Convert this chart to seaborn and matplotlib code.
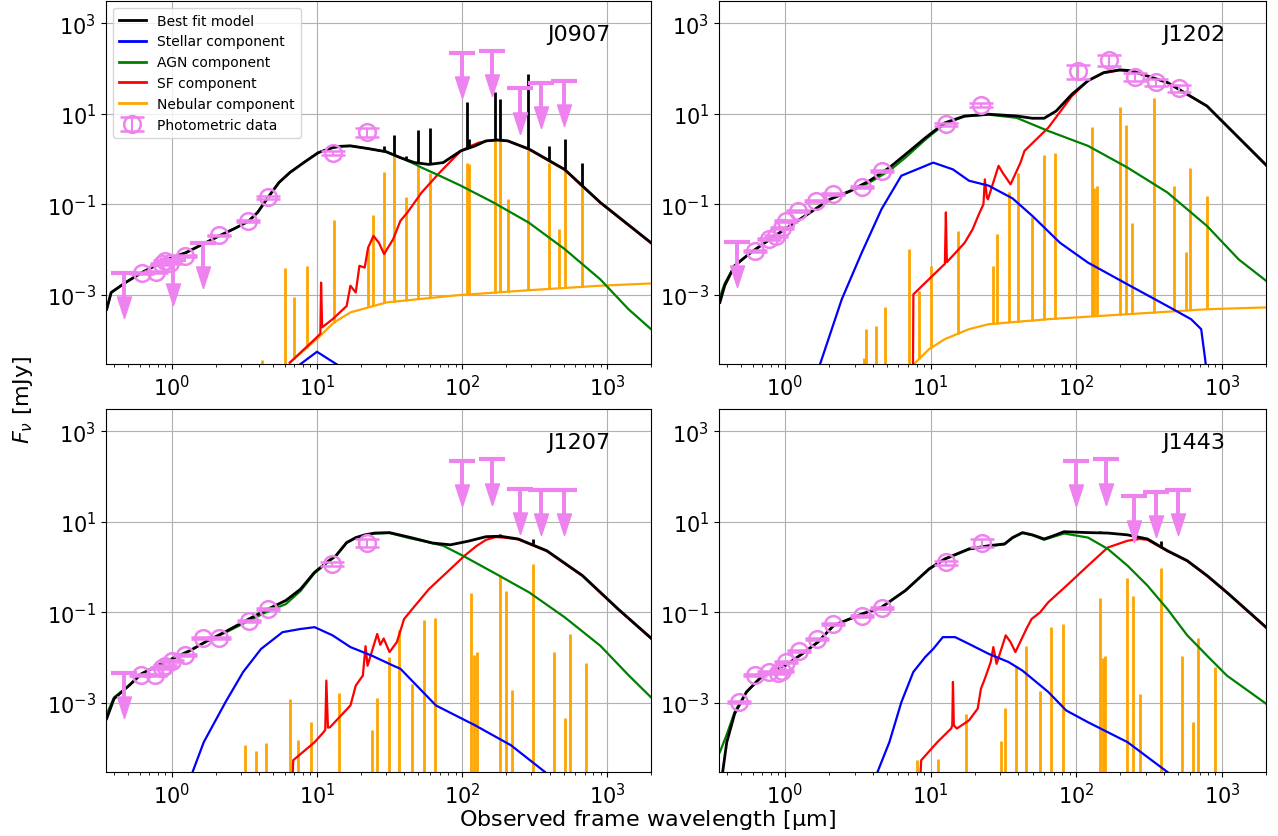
import numpy as np
import pandas as pd
import matplotlib
matplotlib.use("Agg")
import matplotlib.pyplot as plt
import seaborn as sns
from matplotlib.lines import Line2D
from matplotlib.ticker import NullLocator

# values: wavelength in micron, flux as log10(mJy)

# ---------------- J0907 ----------------
j0907_best_wl = [0.356, 0.382, 0.48, 0.62, 0.80, 1.0, 1.25, 1.76, 2.15, 2.77, 3.39, 3.9, 4.6, 5.47, 6.5, 8.1, 10.2,
                 12.8, 14.5, 17, 22.5, 30, 37.5, 47, 59, 74, 98, 123, 146, 174, 206, 289, 508, 895, 2000]
j0907_best_logf = [-3.32, -2.95, -2.73, -2.51, -2.33, -2.18, -2.07, -1.83, -1.69, -1.52, -1.37, -1.18, -0.85, -0.52,
                   -0.30, -0.08, 0.14, 0.25, 0.28, 0.29, 0.23, 0.16, 0.03, -0.08, -0.12, -0.08, 0.18, 0.29, 0.40,
                   0.42, 0.40, 0.22, -0.23, -0.96, -1.85]
j0907_agn_wl = [0.356, 0.382, 0.48, 0.62, 0.80, 1.0, 1.25, 1.76, 2.15, 2.77, 3.39, 3.9, 4.6, 5.47, 6.5, 8.1, 10.2,
                12.8, 14.5, 17, 22.5, 30, 37.5, 47, 52.6, 70, 98, 164, 289, 508, 895, 1400, 2000]
j0907_agn_logf = [-3.32, -2.95, -2.73, -2.51, -2.33, -2.18, -2.07, -1.83, -1.69, -1.52, -1.37, -1.18, -0.85, -0.52,
                  -0.30, -0.08, 0.14, 0.25, 0.28, 0.29, 0.23, 0.16, 0.03, -0.11, -0.19, -0.37, -0.59, -0.96, -1.41,
                  -1.99, -2.66, -3.32, -3.76]
j0907_sf_wl = [6.5, 10.2, 10.55, 10.67, 10.85, 12.8, 16, 17, 18.5, 19.6, 21.3, 22.5, 24.5, 26.7, 29, 33.5, 37.5, 42,
               52.6, 70, 98, 115, 130, 150, 174, 206, 289, 508, 895, 2000]
j0907_sf_logf = [-4.5, -3.91, -3.86, -2.73, -3.72, -3.54, -3.25, -2.80, -2.95, -2.36, -2.40, -1.96, -1.70, -1.85,
                 -2.10, -1.77, -1.37, -1.18, -0.74, -0.30, 0.18, 0.29, 0.36, 0.40, 0.42, 0.40, 0.21, -0.24, -0.97,
                 -1.86]
j0907_stellar_wl = [7.0, 10.0, 15.0]
j0907_stellar_logf = [-4.63, -4.26, -4.62]
j0907_neb_wl = [6.5, 10.2, 13.0, 17, 30, 93, 289, 895, 2000]
j0907_neb_logf = [-4.5, -3.95, -3.62, -3.39, -3.17, -3.01, -2.90, -2.80, -2.75]
j0907_line_wl = [4.17, 6.03, 6.98, 8.5, 13.1, 22.5, 24.3, 29.1, 33.8, 41.3, 49.8, 60.4, 108, 112, 168, 183, 207,
                 285, 394, 468, 508, 667]
j0907_line_logf = [-4.44, -2.40, -3.05, -2.36, -1.35, -1.96, -1.24, -0.29, 0.08, -0.83, -0.15, -0.30, -0.08, -0.10,
                   0.42, 0.42, -0.89, 0.20, -0.08, -1.54, -0.23, -0.48]
j0907_spike_wl = [29.1, 33.8, 41.3, 49.8, 60.4, 108, 112, 168, 183, 285, 394, 508, 667]
j0907_spike_logf = [0.29, 0.52, 0.07, 0.64, 0.69, 1.25, 0.44, 1.48, 1.32, 1.87, 0.29, 0.44, -0.08]
j0907_phot_wl = [0.62, 0.775, 0.853, 0.90, 0.97, 1.24, 2.11, 3.34, 4.6, 12.8, 22]
j0907_phot_logf = [-2.51, -2.50, -2.33, -2.25, -2.29, -2.14, -1.69, -1.37, -0.85, 0.13, 0.60]
j0907_phot_err = [0.05, 0.05, 0.05, 0.05, 0.05, 0.05, 0.05, 0.06, 0.06, 0.1, 0.22]
j0907_ulim_wl = [0.47, 1.02, 1.64, 100, 160, 250, 350, 500]
j0907_ulim_logf = [-2.52, -2.23, -1.85, 2.35, 2.39, 1.56, 1.69, 1.72]

# ---------------- J1202 ----------------
j1202_best_wl = [0.357, 0.385, 0.45, 0.58, 0.79, 1.0, 1.49, 2.03, 2.78, 3.8, 5.2, 6.7, 9.2, 12.5, 17.1, 25, 38.8,
                 49.9, 60, 72.6, 93, 120, 154, 198, 239, 421, 787, 2000]
j1202_best_logf = [-3.17, -2.80, -2.36, -2.07, -1.77, -1.55, -1.18, -0.89, -0.71, -0.48, -0.19, 0.10, 0.47, 0.80,
                   0.95, 0.99, 0.95, 0.90, 0.90, 1.06, 1.43, 1.73, 1.91, 1.97, 1.95, 1.69, 1.17, -0.13]
j1202_agn_wl = [0.357, 0.385, 0.45, 0.58, 0.79, 1.0, 1.49, 2.03, 2.78, 3.8, 5.2, 6.7, 9.2, 12.5, 17.1, 25, 38.8, 64,
                120, 224, 421, 787, 1300, 2000]
j1202_agn_logf = [-3.05, -2.75, -2.36, -2.07, -1.77, -1.55, -1.18, -0.89, -0.72, -0.52, -0.26, 0.03, 0.43, 0.78,
                  0.94, 0.98, 0.91, 0.62, 0.29, -0.19, -0.74, -1.48, -2.22, -2.69]
j1202_sf_wl = [7.55, 7.6, 12.1, 12.5, 12.7, 12.9, 17.1, 19.4, 21.4, 23.0, 23.5, 24.3, 24.7, 29.2, 31.1, 35.3, 41.3,
               44, 64, 93, 120, 154, 198, 239, 421, 787, 2000]
j1202_sf_logf = [-4.6, -2.99, -2.36, -2.32, -1.18, -2.28, -1.85, -1.55, -1.22, -1.0, -0.45, -0.85, -0.89, -0.15,
                 -0.30, -0.56, -0.08, 0.18, 0.69, 1.39, 1.73, 1.90, 1.96, 1.94, 1.69, 1.17, -0.14]
j1202_stellar_wl = [1.74, 2.45, 3.36, 4.59, 6.28, 8.6, 10.4, 14.2, 18.3, 25, 36.4, 49.9, 77, 120, 224, 421, 612,
                    718, 777]
j1202_stellar_logf = [-4.53, -3.10, -2.07, -1.11, -0.37, -0.19, -0.08, -0.23, -0.48, -0.59, -0.87, -1.26, -1.85,
                      -2.29, -2.77, -3.25, -3.54, -3.76, -4.6]
j1202_neb_wl = [7.3, 9.75, 12.5, 18.3, 25, 64, 224, 787, 2000]
j1202_neb_logf = [-4.6, -4.20, -3.98, -3.76, -3.65, -3.54, -3.43, -3.32, -3.28]
j1202_line_wl = [3.46, 3.6, 4.18, 4.89, 7.1, 8.3, 10.05, 15.4, 26.6, 28.3, 34.7, 40, 49.2, 60, 71.7, 128, 132, 138,
                 200, 220, 241, 338, 468, 565, 605, 787]
j1202_line_logf = [-4.39, -3.75, -3.69, -3.28, -1.99, -2.92, -2.36, -1.60, -2.36, -1.65, -0.73, -0.30, -1.29, 0.09,
                   0.14, 0.71, -0.64, -0.59, 1.14, 0.75, -1.41, 1.34, -0.59, -2.06, -0.19, -0.82]
j1202_spike_wl = []
j1202_spike_logf = []
j1202_phot_wl = [0.625, 0.77, 0.87, 0.957, 1.02, 1.23, 1.63, 2.14, 3.4, 4.65, 12.7, 22, 102, 166, 251, 352, 508]
j1202_phot_logf = [-2.03, -1.77, -1.71, -1.52, -1.37, -1.15, -0.93, -0.78, -0.61, -0.26, 0.77, 1.19, 1.95, 2.19,
                   1.82, 1.70, 1.56]
j1202_phot_err = [0.05, 0.05, 0.05, 0.05, 0.05, 0.05, 0.05, 0.05, 0.05, 0.05, 0.08, 0.1, 0.33, 0.28, 0.18, 0.17,
                  0.18]
j1202_ulim_wl = [0.466]
j1202_ulim_logf = [-1.83]

# ---------------- J1207 ----------------
j1207_best_wl = [0.356, 0.40, 0.507, 0.618, 0.797, 1.0, 1.33, 1.76, 2.34, 3.39, 4.6, 6.1, 7.7, 9.6, 12.1, 13.5, 16,
                 18.5, 21.3, 25, 31.6, 44.4, 62.5, 83, 110, 146, 183, 243, 383, 675, 1189, 2000]
j1207_best_logf = [-3.35, -2.91, -2.62, -2.36, -2.18, -2.03, -1.85, -1.63, -1.43, -1.15, -0.93, -0.74, -0.49, -0.12,
                   0.14, 0.25, 0.54, 0.65, 0.71, 0.75, 0.76, 0.65, 0.53, 0.49, 0.57, 0.67, 0.68, 0.62, 0.36, -0.19,
                   -0.93, -1.57]
j1207_agn_wl = [0.356, 0.40, 0.507, 0.618, 0.797, 1.0, 1.33, 1.76, 2.34, 3.39, 4.6, 6.1, 7.7, 9.6, 12.1, 13.5, 16,
                18.5, 21.3, 25, 31.6, 44.4, 52.7, 74, 101, 164, 289, 508, 895, 1409, 2000]
j1207_agn_logf = [-3.25, -2.88, -2.62, -2.36, -2.18, -2.03, -1.85, -1.63, -1.45, -1.19, -0.98, -0.82, -0.53, -0.14,
                  0.13, 0.24, 0.53, 0.64, 0.70, 0.74, 0.75, 0.63, 0.58, 0.47, 0.25, -0.12, -0.56, -1.11, -1.74,
                  -2.40, -2.88]
j1207_sf_wl = [6.8, 6.86, 9.64, 11.1, 11.4, 11.6, 11.9, 12.3, 17, 18.5, 20.7, 21.6, 22.3, 26, 27.3, 28.8, 31.6, 35.5,
               39.8, 44.5, 59, 78.4, 104, 125, 146, 170, 194, 243, 383, 675, 1189, 2000]
j1207_sf_logf = [-4.6, -4.27, -3.87, -3.65, -3.6, -2.51, -3.55, -3.54, -3.06, -2.62, -2.40, -1.75, -2.18, -1.48,
                 -1.72, -1.58, -1.88, -1.66, -1.15, -0.96, -0.49, -0.12, 0.25, 0.46, 0.60, 0.66, 0.65, 0.61, 0.35,
                 -0.20, -0.94, -1.58]
j1207_stellar_wl = [1.39, 1.66, 2.34, 3.1, 4.12, 5.79, 7.69, 9.64, 12.8, 17, 23.9, 33.5, 37.6, 66, 123, 217, 372]
j1207_stellar_logf = [-4.53, -3.87, -2.99, -2.32, -1.81, -1.44, -1.37, -1.33, -1.51, -1.77, -1.96, -2.18, -2.25,
                      -3.06, -3.50, -3.94, -4.53]
j1207_neb_wl = []
j1207_neb_logf = []
j1207_line_wl = [3.19, 3.79, 4.44, 6.5, 7.45, 9.1, 14.1, 24.1, 26, 31.3, 36.5, 45, 54.3, 65.1, 116, 121, 127, 181,
                 200, 220, 309, 426, 508, 553, 718]
j1207_line_logf = [-3.94, -4.07, -3.88, -2.91, -3.83, -3.43, -2.79, -3.61, -2.90, -1.99, -1.40, -2.58, -1.18, -1.13,
                   -0.58, -1.94, -1.87, -0.17, -0.54, -2.71, 0.07, -1.88, -3.34, -1.48, -2.12]
j1207_spike_wl = [181, 309]
j1207_spike_logf = [0.74, 0.62]
j1207_phot_wl = [0.618, 0.762, 0.853, 0.9, 1.0, 1.23, 1.64, 2.12, 3.38, 4.6, 12.6, 22]
j1207_phot_logf = [-2.38, -2.38, -2.24, -2.18, -2.07, -1.94, -1.57, -1.57, -1.19, -0.93, 0.06, 0.54]
j1207_phot_err = [0.05, 0.05, 0.05, 0.05, 0.05, 0.05, 0.05, 0.05, 0.05, 0.05, 0.1, 0.22]
j1207_ulim_wl = [0.47, 100, 160, 250, 350, 500]
j1207_ulim_logf = [-2.34, 2.35, 2.38, 1.72, 1.70, 1.71]

# ---------------- J1443 ----------------
j1443_best_wl = [0.373, 0.398, 0.451, 0.544, 0.70, 1.0, 1.31, 1.68, 2.16, 3.36, 4.59, 6.7, 9.75, 12.5, 18.3, 25,
                 32.1, 36.4, 42.6, 49.9, 60, 68.2, 82.3, 120, 164, 224, 307, 421, 576, 788, 1078, 2000]
j1443_best_logf = [-4.53, -3.87, -3.24, -2.76, -2.40, -2.18, -1.92, -1.66, -1.29, -1.04, -0.89, -0.52, -0.04, 0.18,
                   0.40, 0.47, 0.51, 0.65, 0.76, 0.71, 0.62, 0.68, 0.78, 0.76, 0.75, 0.71, 0.62, 0.36, 0.14, -0.19,
                   -0.56, -1.33]
j1443_agn_wl = [0.357, 0.398, 0.451, 0.544, 0.70, 1.0, 1.31, 1.68, 2.16, 3.36, 4.59, 6.7, 9.75, 12.5, 18.3, 25,
                32.1, 36.4, 42.6, 49.9, 60, 68.2, 82.3, 120, 164, 224, 307, 421, 576, 788, 1078, 2000]
j1443_agn_logf = [-4.09, -3.70, -3.20, -2.76, -2.40, -2.18, -1.92, -1.66, -1.29, -1.04, -0.89, -0.52, -0.05, 0.17,
                  0.39, 0.46, 0.50, 0.64, 0.75, 0.70, 0.60, 0.66, 0.74, 0.65, 0.40, 0.03, -0.41, -0.93, -1.51, -1.96,
                  -2.40, -3.02]
j1443_sf_wl = [8.5, 8.6, 11.1, 13.8, 14.05, 14.2, 14.4, 15.1, 18.3, 21, 22.1, 23.5, 25.8, 26.9, 28.3, 32.7, 35.3,
               38.1, 45.3, 49.2, 56.4, 64, 87.7, 120, 164, 224, 271, 307, 421, 576, 788, 1078, 2000]
j1443_sf_logf = [-4.6, -4.27, -3.87, -3.57, -3.5, -2.54, -3.5, -3.57, -3.39, -3.13, -2.69, -2.47, -2.10, -1.77,
                 -2.14, -1.51, -1.66, -1.88, -1.37, -1.15, -1.0, -0.78, -0.38, 0.03, 0.43, 0.58, 0.62, 0.60, 0.35,
                 0.13, -0.20, -0.57, -1.34]
j1443_stellar_wl = [4.31, 5.2, 6.28, 7.59, 9.16, 10.4, 12.1, 14.7, 18.3, 25, 34.2, 42.6, 64, 85, 120, 224, 421]
j1443_stellar_logf = [-4.53, -3.87, -2.99, -2.32, -1.99, -1.81, -1.55, -1.55, -1.70, -1.92, -2.10, -2.29, -2.76,
                      -3.17, -3.43, -3.87, -4.53]
j1443_neb_wl = []
j1443_neb_logf = []
j1443_line_wl = [8.08, 11.3, 17.5, 30.2, 32.1, 38.7, 45.3, 55.8, 66.7, 80.6, 145, 151, 157, 224, 246, 275, 383, 531,
                 629, 687, 893]
j1443_line_logf = [-4.27, -4.25, -3.24, -3.85, -3.12, -2.18, -1.74, -2.73, -1.33, -1.26, -0.68, -2.01, -1.97, -0.25,
                   -0.65, -2.80, -0.03, -1.97, -3.43, -1.57, -2.21]
j1443_spike_wl = [145, 383]
j1443_spike_logf = [0.80, 0.57]
j1443_phot_wl = [0.48, 0.625, 0.77, 0.89, 0.957, 1.02, 1.25, 1.65, 2.14, 3.4, 4.65, 12.7, 22.4]
j1443_phot_logf = [-2.99, -2.38, -2.32, -2.35, -2.29, -2.10, -1.85, -1.60, -1.26, -1.09, -0.90, 0.10, 0.54]
j1443_phot_err = [0.05, 0.05, 0.05, 0.05, 0.05, 0.05, 0.05, 0.05, 0.05, 0.05, 0.05, 0.1, 0.22]
j1443_ulim_wl = [100, 160, 250, 350, 500]
j1443_ulim_logf = [2.35, 2.38, 1.56, 1.66, 1.71]

panels = [
    dict(name="J0907", best=(j0907_best_wl, j0907_best_logf), agn=(j0907_agn_wl, j0907_agn_logf),
         sf=(j0907_sf_wl, j0907_sf_logf), stellar=(j0907_stellar_wl, j0907_stellar_logf),
         neb=(j0907_neb_wl, j0907_neb_logf), lines=(j0907_line_wl, j0907_line_logf),
         spikes=(j0907_spike_wl, j0907_spike_logf), phot=(j0907_phot_wl, j0907_phot_logf, j0907_phot_err),
         ulim=(j0907_ulim_wl, j0907_ulim_logf)),
    dict(name="J1202", best=(j1202_best_wl, j1202_best_logf), agn=(j1202_agn_wl, j1202_agn_logf),
         sf=(j1202_sf_wl, j1202_sf_logf), stellar=(j1202_stellar_wl, j1202_stellar_logf),
         neb=(j1202_neb_wl, j1202_neb_logf), lines=(j1202_line_wl, j1202_line_logf),
         spikes=(j1202_spike_wl, j1202_spike_logf), phot=(j1202_phot_wl, j1202_phot_logf, j1202_phot_err),
         ulim=(j1202_ulim_wl, j1202_ulim_logf)),
    dict(name="J1207", best=(j1207_best_wl, j1207_best_logf), agn=(j1207_agn_wl, j1207_agn_logf),
         sf=(j1207_sf_wl, j1207_sf_logf), stellar=(j1207_stellar_wl, j1207_stellar_logf),
         neb=(j1207_neb_wl, j1207_neb_logf), lines=(j1207_line_wl, j1207_line_logf),
         spikes=(j1207_spike_wl, j1207_spike_logf), phot=(j1207_phot_wl, j1207_phot_logf, j1207_phot_err),
         ulim=(j1207_ulim_wl, j1207_ulim_logf)),
    dict(name="J1443", best=(j1443_best_wl, j1443_best_logf), agn=(j1443_agn_wl, j1443_agn_logf),
         sf=(j1443_sf_wl, j1443_sf_logf), stellar=(j1443_stellar_wl, j1443_stellar_logf),
         neb=(j1443_neb_wl, j1443_neb_logf), lines=(j1443_line_wl, j1443_line_logf),
         spikes=(j1443_spike_wl, j1443_spike_logf), phot=(j1443_phot_wl, j1443_phot_logf, j1443_phot_err),
         ulim=(j1443_ulim_wl, j1443_ulim_logf)),
]

COLORS = {"Nebular component": "orange", "SF component": "red", "AGN component": "green",
          "Stellar component": "blue", "Best fit model": "black"}
KEYS = {"Nebular component": "neb", "SF component": "sf", "AGN component": "agn",
        "Stellar component": "stellar", "Best fit model": "best"}
PHOT_COLOR = "violet"
YMIN, YMAX = 2.95e-5, 3.1e3
XMIN, XMAX = 0.352, 2000

# downward arrow head, tip at the marker position
ARROW = [(0, 0), (-0.65, 2), (0.65, 2), (0, 0)]


def log_interp(wl, cwl, clogf):
    # continuum level under a line, in log-log space
    if len(cwl) == 0:
        return np.full(len(wl), YMIN * 0.1)
    lw = np.log10(np.asarray(wl, float))
    out = 10 ** np.interp(lw, np.log10(cwl), clogf)
    outside = (lw < np.log10(cwl[0])) | (lw > np.log10(cwl[-1]))
    out[outside] = YMIN * 0.1
    return out


def draw_panel(ax, p, with_legend=False):
    frames = []
    for comp in ["Nebular component", "SF component", "AGN component", "Stellar component"]:
        wl, lf = p[KEYS[comp]]
        if len(wl):
            frames.append(pd.DataFrame({"wl": wl, "flux": 10.0 ** np.asarray(lf), "component": comp}))
    df = pd.concat(frames, ignore_index=True)
    order = [c for c in COLORS if c in set(df["component"])]
    sns.lineplot(data=df, x="wl", y="flux", hue="component", hue_order=order, palette=COLORS,
                 estimator=None, sort=False, legend=False, linewidth=1.6, ax=ax, zorder=2)

    best = pd.DataFrame({"wl": p["best"][0], "flux": 10.0 ** np.asarray(p["best"][1])})
    sns.lineplot(data=best, x="wl", y="flux", color="black", estimator=None, sort=False,
                 linewidth=2.0, ax=ax, zorder=3)

    # nebular emission lines
    lwl, llf = p["lines"]
    base = log_interp(lwl, p["neb"][0], p["neb"][1])
    ax.vlines(lwl, base, 10.0 ** np.asarray(llf), colors="orange", lw=2.0, zorder=1.8)

    # lines showing up in the total model
    swl, slf = p["spikes"]
    if len(swl):
        sbase = log_interp(swl, p["best"][0], p["best"][1])
        ax.vlines(swl, sbase, 10.0 ** np.asarray(slf), colors="black", lw=2.0, zorder=3)

    # photometric points
    pwl, plf, perr = p["phot"]
    pf = 10.0 ** np.asarray(plf)
    eb = ax.errorbar(pwl, pf, yerr=pf * np.asarray(perr), fmt="o", ms=12, mfc="none", mec=PHOT_COLOR,
                     mew=1.8, ecolor=PHOT_COLOR, elinewidth=1.5, capsize=8.5, capthick=2, zorder=5,
                     label="Photometric data")

    # upper limits
    uwl, ulf = p["ulim"]
    uf = 10.0 ** np.asarray(ulf)
    ax.vlines(uwl, uf * 0.2, uf, colors=PHOT_COLOR, lw=2.8, zorder=5)
    ax.plot(uwl, uf, ls="none", marker="_", ms=19, mew=3, color=PHOT_COLOR, zorder=5)
    ax.plot(uwl, uf * 0.1, ls="none", marker=ARROW, ms=31, color=PHOT_COLOR, mec=PHOT_COLOR, zorder=5)

    ax.set_xscale("log")
    ax.set_yscale("log")
    ax.set_xlim(XMIN, XMAX)
    ax.set_ylim(YMIN, YMAX)
    ax.set_yticks([1e-3, 1e-1, 1e1, 1e3])
    ax.yaxis.set_minor_locator(NullLocator())
    ax.tick_params(axis="both", which="major", labelsize=15)
    ax.grid(True, which="major", color="#b0b0b0", lw=0.8)
    ax.set_axisbelow(True)
    ax.set_xlabel("")
    ax.set_ylabel("")
    ax.text(0.925, 0.91, p["name"], transform=ax.transAxes, ha="right", va="center", fontsize=16)

    if with_legend:
        names = ["Best fit model", "Stellar component", "AGN component", "SF component", "Nebular component"]
        handles = [Line2D([], [], color=COLORS[c], lw=2) for c in names]
        ax.legend(handles + [eb], names + ["Photometric data"], loc="upper left", fontsize=10)


fig = plt.figure(figsize=(12.78, 8.37), dpi=100)
W, H = 1278, 837
boxes = [(106, 2, 651, 365), (719, 2, 1266, 365), (106, 410, 651, 773), (719, 410, 1266, 773)]
for i, (p, (x0, y0, x1, y1)) in enumerate(zip(panels, boxes)):
    ax = fig.add_axes([x0 / W, 1 - y1 / H, (x1 - x0) / W, (y1 - y0) / H])
    draw_panel(ax, p, with_legend=(i == 0))

fig.text(648 / W, 1 - 820 / H, r"Observed frame wavelength [$\mathrm{\mu}$m]", ha="center", va="center",
         fontsize=16)
fig.text(23 / W, 1 - 400 / H, r"$F_\nu$ [mJy]", ha="center", va="center", rotation=90, fontsize=16)

fig.savefig("out.png", dpi=100)
plt.close(fig)
